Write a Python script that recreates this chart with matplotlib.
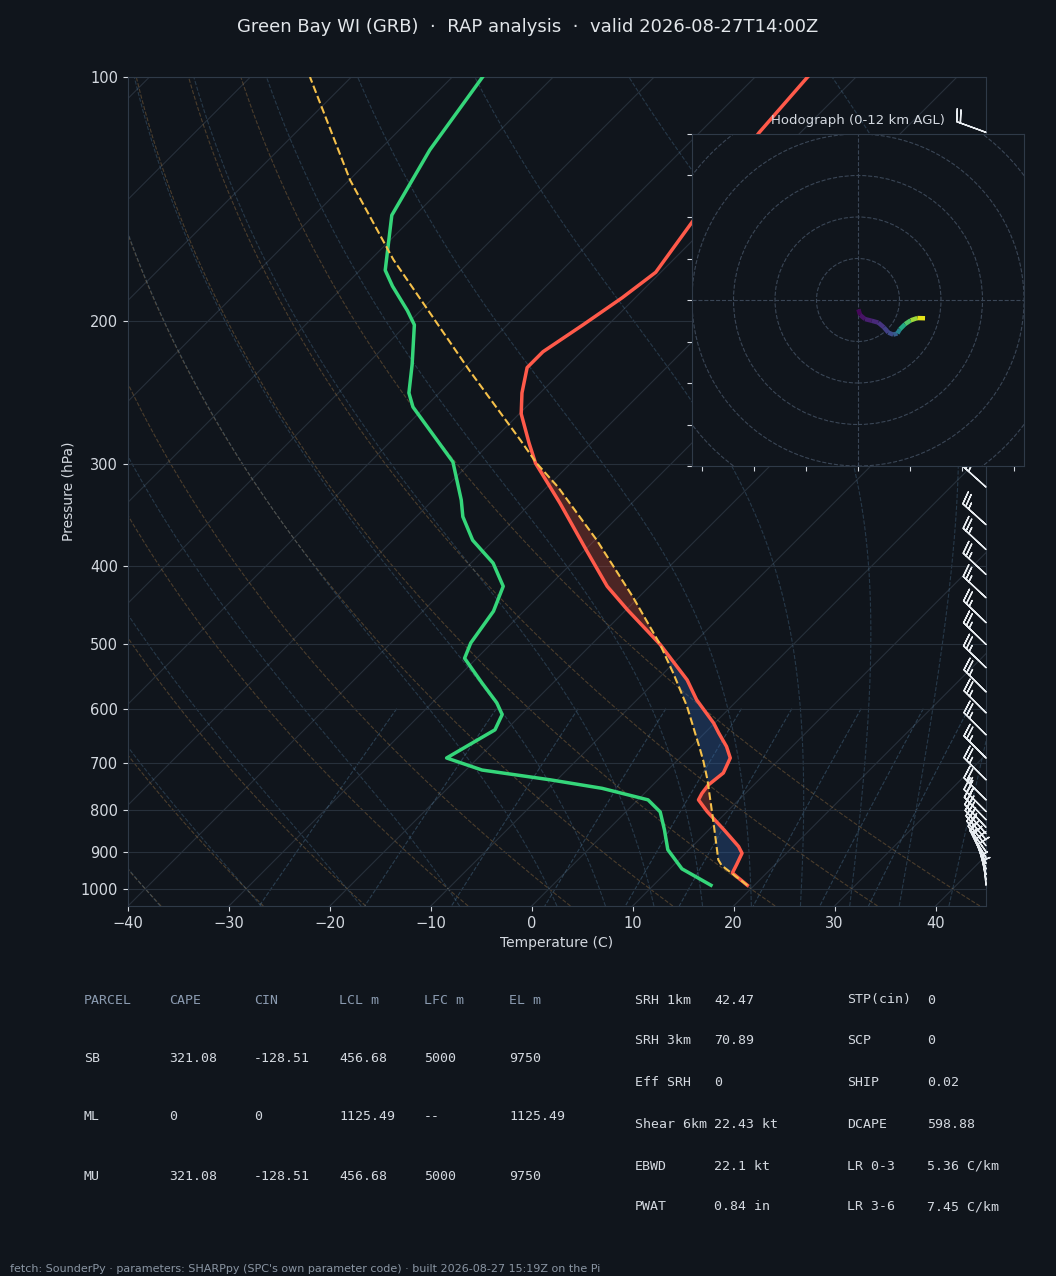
import numpy as np
import matplotlib
matplotlib.use('Agg')
import matplotlib.pyplot as plt
import matplotlib.transforms as mtransforms
from matplotlib.collections import LineCollection
from matplotlib.patches import Circle
from matplotlib.ticker import NullLocator, FixedLocator, FixedFormatter

########################################
#   Sounding data
########################################

env_p = [990, 956, 934, 904, 887, 846, 803, 777, 763, 745, 720, 690, 668, 643, 625, 585,
         553, 500, 453, 424, 383, 335, 299, 282, 260, 245, 228, 218, 202, 187, 174, 152, 117, 100]
env_t = [19.3, 16.6, 16.2, 15.6, 14.6, 11.5, 8.0, 6.0, 5.7, 5.5, 5.8, 5.0, 3.5, 1.4, -0.1, -4.1,
         -7.0, -13.2, -19.9, -24.2, -29.8, -37.1, -43.5, -46.2, -49.8, -51.8, -53.8, -53.8, -52.5,
         -51.3, -50.5, -51.8, -54.1, -54.8]

dew_p = [990, 945, 895, 846, 804, 777, 752, 734, 714, 690, 637, 610, 590, 558, 520, 498, 455,
         424, 397, 372, 348, 332, 298, 255, 245, 226, 202, 194, 181, 173, 148, 123, 100]
dew_t = [15.7, 11.2, 7.9, 5.6, 3.4, 1.0, -4.7, -10.7, -18.4, -23.1, -21.1, -21.9, -23.6, -27.0,
         -31.2, -32.1, -33.0, -34.5, -37.8, -42.1, -45.4, -47.2, -51.8, -61.2, -63.0, -65.5,
         -69.2, -71.3, -75.2, -77.5, -82.3, -85.0, -87.0]

par_p = [990, 936, 921, 830, 734, 697, 674, 596, 543, 500, 437, 372, 320, 299, 280, 230, 168, 134, 100]
par_t = [19.3, 14.8, 13.9, 9.8, 4.9, 2.7, 1.2, -4.4, -9.0, -13.2, -20.6, -29.8, -38.9, -43.4,
         -47.3, -59.2, -77.7, -89.9, -104.1]
el_p = 299

barb_p = [990, 975, 960, 945, 930, 915, 900, 885, 870, 855, 840, 822, 803, 777, 734, 690, 646,
          607, 572, 534, 500, 470, 438, 410, 382, 356, 320, 290, 262, 236, 212, 190, 170, 152, 135, 117]
barb_dir = [355, 350, 345, 340, 334, 329, 325, 322, 320, 318, 317, 316, 315, 315, 315, 315, 315,
            315, 315, 314, 314, 314, 313, 313, 313, 312, 312, 308, 305, 302, 300, 298, 295, 293, 291, 290]
barb_spd = [5, 5, 8, 10, 12, 14, 16, 18, 20, 21, 22, 23, 24, 25, 25, 25, 25, 25, 25, 25, 25, 25,
            25, 25, 25, 25, 25, 25, 25, 25, 24, 23, 22, 21, 20, 20]

hodo_h = [0, 0.4, 0.8, 1.2, 1.6, 2.0, 2.5, 3.0, 4.0, 6.5, 8.0, 9.5, 11.0, 12.0]
hodo_u = [0.2, 1.0, 3.4, 6.6, 9.8, 12.5, 14.6, 17.0, 19.0, 20.2, 22.7, 25.4, 28.6, 32.3]
hodo_v = [-4.5, -7.2, -9.2, -10.0, -10.9, -13.2, -15.7, -16.7, -16.1, -14.1, -11.6, -9.8, -8.7, -8.8]

title = 'Green Bay WI (GRB)  \u00b7  RAP analysis  \u00b7  valid 2026-08-27T14:00Z'
footer = ("fetch: SounderPy \u00b7 parameters: SHARPpy (SPC's own parameter code) \u00b7 "
          "built 2026-08-27 15:19Z on the Pi")

parcel_head = ['PARCEL', 'CAPE', 'CIN', 'LCL m', 'LFC m', 'EL m']
parcel_rows = [['SB', '321.08', '-128.51', '456.68', '5000', '9750'],
               ['ML', '0', '0', '1125.49', '--', '1125.49'],
               ['MU', '321.08', '-128.51', '456.68', '5000', '9750']]
params_left = [('SRH 1km', '42.47'), ('SRH 3km', '70.89'), ('Eff SRH', '0'),
               ('Shear 6km', '22.43 kt'), ('EBWD', '22.1 kt'), ('PWAT', '0.84 in')]
params_right = [('STP(cin)', '0'), ('SCP', '0'), ('SHIP', '0.02'),
                ('DCAPE', '598.88'), ('LR 0-3', '5.36 C/km'), ('LR 3-6', '7.45 C/km')]

########################################
#   Style
########################################

BG = '#10151c'
FG = '#d4d9e0'
GRID = '#27303b'
SPINE = '#2f3a48'
W, H = 1056, 1276

plt.rcParams['font.family'] = ['DejaVu Sans']
plt.rcParams['text.color'] = FG
plt.rcParams['axes.labelcolor'] = FG
plt.rcParams['xtick.color'] = FG
plt.rcParams['ytick.color'] = FG

fig = plt.figure(figsize=(W / 100, H / 100), dpi=100, facecolor=BG)

########################################
#   Skew-T axes
########################################

ax = fig.add_axes([128 / W, 1 - 906 / H, 858 / W, 829 / H])
ax.set_facecolor(BG)
ax.set_yscale('log')
ax.set_ylim(1050, 100)
ax.set_xlim(-40, 45)
ax.set_autoscale_on(False)
for s in ax.spines.values():
    s.set_color(SPINE)

# 45 degree skew in display space, anchored at the bottom of the axes
k = 829 / 858
skew = (ax.transScale + ax.transLimits
        + mtransforms.Affine2D(np.array([[1.0, k, 0.0], [0.0, 1.0, 0.0], [0.0, 0.0, 1.0]]))
        + ax.transAxes)

ax.yaxis.set_major_locator(FixedLocator([100, 200, 300, 400, 500, 600, 700, 800, 900, 1000]))
ax.yaxis.set_major_formatter(FixedFormatter(['100', '200', '300', '400', '500', '600', '700', '800', '900', '1000']))
ax.yaxis.set_minor_locator(NullLocator())
ax.set_xticks(np.arange(-40, 41, 10))
ax.tick_params(labelsize=10.5, colors=FG, length=3.5, width=0.8)
ax.grid(axis='y', color=GRID, lw=0.8)
ax.set_ylabel('Pressure (hPa)', fontsize=10)
ax.set_xlabel('Temperature (C)', fontsize=10, labelpad=4)

pp = np.linspace(1050, 100, 200)

# isotherms
for t in range(-140, 50, 10):
    ax.plot([t, t], [1050, 100], color=GRID, lw=0.8, transform=skew, zorder=1)

# dry adiabats (referenced to 1000 hPa)
for t0 in np.arange(-40, 46, 10):
    ax.plot((t0 + 273.15) * (pp / 1000.0) ** 0.2857 - 273.15, pp, color='#b8874a',
            alpha=0.35, lw=0.8, ls='--', transform=skew, zorder=1)

# moist adiabats
Rd, Cp, Lv, eps = 287.04749, 1004.6662, 2.50084e6, 0.621957

def moist_lapse(T, p):
    es = 6.112 * np.exp(17.67 * (T - 273.15) / (T - 29.65))
    rs = eps * es / (p - es)
    return (Rd * T + Lv * rs) / (Cp + Lv * Lv * rs * eps / (Rd * T * T)) / p

def moist_line(t0, plev):
    out = [t0 + 273.15]
    for i in range(1, len(plev)):
        T, p, h = out[-1], plev[i - 1], plev[i] - plev[i - 1]
        k1 = moist_lapse(T, p)
        k2 = moist_lapse(T + h * k1 / 2, p + h / 2)
        k3 = moist_lapse(T + h * k2 / 2, p + h / 2)
        k4 = moist_lapse(T + h * k3, p + h)
        out.append(T + h * (k1 + 2 * k2 + 2 * k3 + k4) / 6)
    return np.array(out) - 273.15

p_up = np.linspace(1000, 100, 181)
p_dn = np.linspace(1000, 1050, 11)
for t0 in np.concatenate((np.arange(-40, 0, 10), np.arange(0, 46, 5))):
    tu = moist_line(t0, p_up)
    td = moist_line(t0, p_dn)
    ax.plot(np.concatenate((td[::-1], tu[1:])), np.concatenate((p_dn[::-1], p_up[1:])),
            color='#5a8ab0', alpha=0.3, lw=0.8, ls='--', transform=skew, zorder=1)

# mixing ratio lines
pm = np.linspace(600, 1050, 50)
for w in [0.0004, 0.001, 0.002, 0.004, 0.007, 0.01, 0.016, 0.024, 0.032]:
    e = pm * w / (eps + w)
    ln = np.log(e / 6.112)
    ax.plot(243.5 * ln / (17.67 - ln), pm, color='#5a8ab0', alpha=0.35, lw=0.8,
            ls='--', transform=skew, zorder=1)

# CAPE / CIN shading
pc = np.unique(np.concatenate((env_p, par_p)))
pc = pc[(pc >= 100) & (pc <= 990)]
lx = np.log(pc)
te = np.interp(lx, np.log(env_p[::-1]), env_t[::-1])
tp = np.interp(lx, np.log(par_p[::-1]), par_t[::-1])
ax.fill_betweenx(pc, te, tp, where=tp > te, interpolate=True, color='#e8503a', alpha=0.28,
                 lw=0, transform=skew, zorder=2)
ax.fill_betweenx(pc, te, tp, where=(tp < te) & (pc >= el_p), interpolate=True, color='#2d5fa8',
                 alpha=0.35, lw=0, transform=skew, zorder=2)

# profiles
ax.plot(env_t, env_p, color='#ff5a4a', lw=2.5, transform=skew, zorder=4)
ax.plot(dew_t, dew_p, color='#35d67a', lw=2.5, transform=skew, zorder=4)
ax.plot(par_t, par_p, color='#f5c04a', lw=1.5, ls='--', transform=skew, zorder=5)

# wind barbs on the right edge
wd = np.radians(barb_dir)
bu = -np.array(barb_spd) * np.sin(wd)
bv = -np.array(barb_spd) * np.cos(wd)
barb_tr = mtransforms.blended_transform_factory(ax.transAxes, ax.transData)
ax.barbs(np.ones(len(barb_p)), barb_p, bu, bv, transform=barb_tr, clip_on=False,
         length=6.7, color='#e8ecf0', lw=1.0, zorder=6)

########################################
#   Hodograph inset
########################################

hax = fig.add_axes([692 / W, 1 - 466 / H, 332 / W, 332 / H])
hax.set_facecolor(BG)
hax.set_xlim(-80, 80)
hax.set_ylim(-80, 80)
for s in hax.spines.values():
    s.set_color(SPINE)
hax.set_xticks(np.arange(-75, 76, 25))
hax.set_yticks(np.arange(-80, 81, 20))
hax.tick_params(labelbottom=False, labelleft=False, colors=FG, length=3.5, width=0.8)
for r in (20, 40, 60, 80, 100):
    hax.add_patch(Circle((0, 0), r, fill=False, ls='--', lw=0.8, color='#3a4656'))
hax.axhline(0, ls='--', lw=0.8, color='#3a4656')
hax.axvline(0, ls='--', lw=0.8, color='#3a4656')
pts = np.column_stack((hodo_u, hodo_v))
segs = np.stack((pts[:-1], pts[1:]), axis=1)
hmid = (np.array(hodo_h[:-1]) + np.array(hodo_h[1:])) / 2
lc = LineCollection(segs, cmap='viridis', lw=3.2, capstyle='butt')
lc.set_array(hmid)
lc.set_clim(0, 12)
hax.add_collection(lc)
hax.set_title('Hodograph (0-12 km AGL)', fontsize=9.5, color=FG, pad=7)

########################################
#   Text: title, tables, footer
########################################

fig.text(0.5, 1 - 27 / H, title, ha='center', va='center', fontsize=13, color='#e2e6ea')

mono = 'DejaVu Sans Mono'
HEAD = '#8b9bb0'
col_x = [84, 169, 254, 339, 424, 509]
row_y = [1000, 1058, 1117, 1176]
for x, t in zip(col_x, parcel_head):
    fig.text(x / W, 1 - row_y[0] / H, t, family=mono, fontsize=9.5, color=HEAD, va='center')
for y, row in zip(row_y[1:], parcel_rows):
    for x, t in zip(col_x, row):
        fig.text(x / W, 1 - y / H, t, family=mono, fontsize=9.5, color=FG, va='center')

prow_y = [1000, 1041, 1083, 1124, 1166, 1207]
for y, (a, b), (c, d) in zip(prow_y, params_left, params_right):
    fig.text(635 / W, 1 - y / H, a, family=mono, fontsize=9.5, color=FG, va='center')
    fig.text(714 / W, 1 - y / H, b, family=mono, fontsize=9.5, color=FG, va='center')
    fig.text(847 / W, 1 - y / H, c, family=mono, fontsize=9.5, color=FG, va='center')
    fig.text(927 / W, 1 - y / H, d, family=mono, fontsize=9.5, color=FG, va='center')

fig.text(10 / W, 1 - 1269 / H, footer, fontsize=8, color='#8a95a3', va='center')

fig.savefig('out.png', dpi=100, facecolor=BG)
